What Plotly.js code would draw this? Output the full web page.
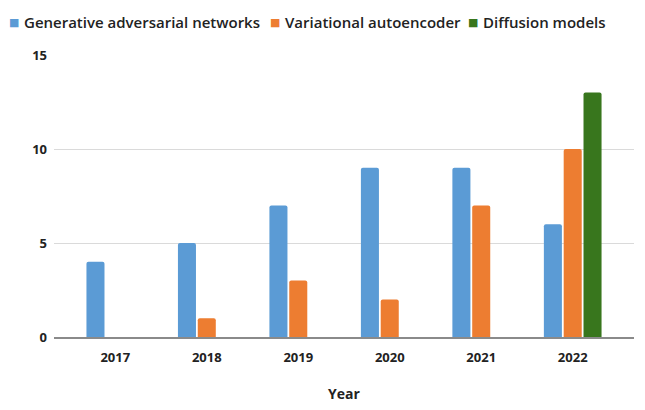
<!DOCTYPE html>
<html>
<head>
<meta charset="utf-8">
<script src="https://cdn.plot.ly/plotly-3.0.1.min.js"></script>
<style>html,body{margin:0;padding:0;background:#fff;}#chart{width:645px;height:410px;}</style>
</head>
<body>
<div id="chart"></div>
<script>
const years = ['2017', '2018', '2019', '2020', '2021', '2022'];
const gan = [4, 5, 7, 9, 9, 6];
const vae = [0, 1, 3, 2, 7, 10];
const diffusion = [0, 0, 0, 0, 0, 13];
const seriesNames = ['Generative adversarial networks', 'Variational autoencoder', 'Diffusion models'];
const colors = ['#5b9bd5', '#ed7d31', '#38761d'];

const font = '"Open Sans", Roboto, sans-serif';
const textColor = '#222';

const traces = [gan, vae, diffusion].map((vals, i) => ({
  type: 'bar',
  name: seriesNames[i],
  x: years,
  y: vals,
  marker: {color: colors[i], cornerradius: 2},
  showlegend: false
}));

// plot area in pixels: left 54, right 634, top 55, bottom 337
const pl = 54, pw = 580, pt = 55, ph = 282;
const px = v => (v - pl) / pw;
const legendY = (pt + ph - 22) / ph;
const swatchX = [13.5, 275, 473];
const textX = [22, 283, 481];

const annotations = [];
seriesNames.forEach((name, i) => {
  annotations.push({
    xref: 'paper', yref: 'paper', x: px(swatchX[i]), y: legendY,
    xanchor: 'center', yanchor: 'middle', showarrow: false,
    text: '■', font: {family: 'DejaVu Sans', size: 11, color: colors[i]}
  });
  annotations.push({
    xref: 'paper', yref: 'paper', x: px(textX[i]), y: legendY,
    xanchor: 'left', yanchor: 'middle', showarrow: false,
    text: name, font: {family: font, size: 15, weight: 600, color: textColor}
  });
});

const layout = {
  width: 645, height: 410,
  margin: {l: pl, r: 645 - pl - pw, t: pt, b: 410 - pt - ph, autoexpand: false},
  paper_bgcolor: '#fff', plot_bgcolor: '#fff',
  font: {family: font, color: textColor},
  barmode: 'group',
  bargap: 0.35,
  bargroupgap: 0.09,
  showlegend: false,
  annotations: annotations,
  xaxis: {
    type: 'category',
    range: [-0.67, 5.67],
    showgrid: false,
    showline: true, linecolor: '#8a8a8a', linewidth: 1.5,
    ticks: '', ticklabelstandoff: 8,
    tickfont: {family: font, size: 13, weight: 700, color: textColor},
    title: {text: 'Year', font: {family: font, size: 14, weight: 700, color: textColor}, standoff: 24}
  },
  yaxis: {
    range: [0, 15], dtick: 5,
    showgrid: true, gridcolor: '#dadada', gridwidth: 1,
    zeroline: false, showline: false,
    ticks: '', ticklabelstandoff: 6,
    tickfont: {family: font, size: 13, weight: 700, color: textColor}
  }
};

Plotly.newPlot('chart', traces, layout, {displayModeBar: false, staticPlot: true});
</script>
</body>
</html>
